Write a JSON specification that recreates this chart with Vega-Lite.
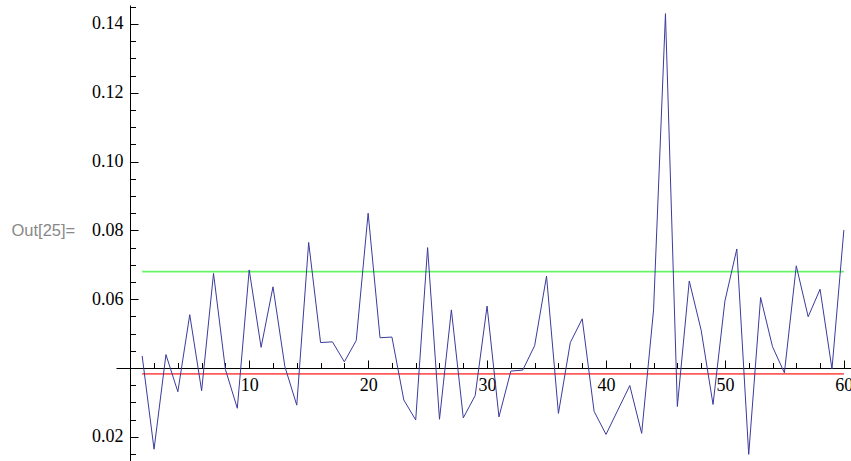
{
  "$schema": "https://vega.github.io/schema/vega-lite/v6.json",
  "width": 735,
  "height": 456,
  "autosize": "none",
  "padding": {"left": 116, "top": 5, "right": 0, "bottom": 0},
  "background": "white",
  "config": {"view": {"stroke": null}},
  "datasets": {
    "series": [
      {"i": 1, "v": 0.0435}, {"i": 2, "v": 0.0164}, {"i": 3, "v": 0.0439}, {"i": 4, "v": 0.0331},
      {"i": 5, "v": 0.0555}, {"i": 6, "v": 0.0334}, {"i": 7, "v": 0.0675}, {"i": 8, "v": 0.0396},
      {"i": 9, "v": 0.0283}, {"i": 10, "v": 0.0685}, {"i": 11, "v": 0.0460}, {"i": 12, "v": 0.0636},
      {"i": 13, "v": 0.0404}, {"i": 14, "v": 0.0292}, {"i": 15, "v": 0.0765}, {"i": 16, "v": 0.0474},
      {"i": 17, "v": 0.0476}, {"i": 18, "v": 0.0418}, {"i": 19, "v": 0.0480}, {"i": 20, "v": 0.0850},
      {"i": 21, "v": 0.0488}, {"i": 22, "v": 0.0490}, {"i": 23, "v": 0.0307}, {"i": 24, "v": 0.0249},
      {"i": 25, "v": 0.0750}, {"i": 26, "v": 0.0251}, {"i": 27, "v": 0.0569}, {"i": 28, "v": 0.0255},
      {"i": 29, "v": 0.0320}, {"i": 30, "v": 0.0580}, {"i": 31, "v": 0.0258}, {"i": 32, "v": 0.0391},
      {"i": 33, "v": 0.0394}, {"i": 34, "v": 0.0465}, {"i": 35, "v": 0.0667}, {"i": 36, "v": 0.0268},
      {"i": 37, "v": 0.0474}, {"i": 38, "v": 0.0543}, {"i": 39, "v": 0.0274}, {"i": 40, "v": 0.0207},
      {"i": 41, "v": 0.0278}, {"i": 42, "v": 0.0349}, {"i": 43, "v": 0.0210}, {"i": 44, "v": 0.0569},
      {"i": 45, "v": 0.1430}, {"i": 46, "v": 0.0288}, {"i": 47, "v": 0.0653}, {"i": 48, "v": 0.0510},
      {"i": 49, "v": 0.0294}, {"i": 50, "v": 0.0595}, {"i": 51, "v": 0.0746}, {"i": 52, "v": 0.0149},
      {"i": 53, "v": 0.0605}, {"i": 54, "v": 0.0462}, {"i": 55, "v": 0.0386}, {"i": 56, "v": 0.0697},
      {"i": 57, "v": 0.0549}, {"i": 58, "v": 0.0629}, {"i": 59, "v": 0.0397}, {"i": 60, "v": 0.0801}
    ],
    "refs": [
      {"name": "upper", "x0": 1, "x1": 60, "v": 0.068},
      {"name": "lower", "x0": 1, "x1": 60, "v": 0.0383}
    ]
  },
  "resolve": {"axis": {"x": "independent", "y": "independent"}},
  "layer": [
    {
      "data": {"name": "refs"},
      "mark": {"type": "rule", "strokeWidth": 1.8},
      "encoding": {
        "x": {
          "field": "x0", "type": "quantitative",
          "scale": {"domain": [-1.2, 60.6], "nice": false, "zero": false},
          "axis": {
            "orient": "bottom", "offset": -93, "values": [2,4,6,8,12,14,16,18,22,24,26,28,32,34,36,38,42,44,46,48,52,54,56,58],
            "labels": false, "domain": false, "grid": false, "tickSize": -5.5, "tickColor": "#000000", "tickWidth": 1, "title": null
          }
        },
        "x2": {"field": "x1"},
        "y": {
          "field": "v", "type": "quantitative",
          "scale": {"domain": [0.01297, 0.14552], "nice": false, "zero": false},
          "axis": {
            "orient": "left", "offset": -14, "values": [0.015,0.025,0.03,0.035,0.045,0.05,0.055,0.065,0.07,0.075,0.085,0.09,0.095,0.105,0.11,0.115,0.125,0.13,0.135,0.145],
            "labels": false, "domain": false, "grid": false, "tickSize": -5.5, "tickColor": "#000000", "tickWidth": 1, "title": null
          }
        },
        "color": {
          "field": "name", "type": "nominal",
          "scale": {"domain": ["upper", "lower"], "range": ["#66f466", "#ff5a5a"]},
          "legend": null
        }
      }
    },
    {
      "data": {"name": "series"},
      "mark": {"type": "line", "stroke": "#3b3b9c", "strokeWidth": 1},
      "encoding": {
        "x": {
          "field": "i", "type": "quantitative",
          "scale": {"domain": [-1.2, 60.6], "nice": false, "zero": false},
          "axis": {
            "orient": "bottom", "offset": -93, "values": [10, 20, 30, 40, 50, 60],
            "grid": false, "domainColor": "#000000", "domainWidth": 1,
            "tickSize": -8, "tickColor": "#000000", "tickWidth": 1,
            "labelFont": "Liberation Serif", "labelFontSize": 18, "labelColor": "#000000",
            "labelPadding": 30, "labelBaseline": "alphabetic", "labelFlush": false, "labelOverlap": false,
            "title": null
          }
        },
        "y": {
          "field": "v", "type": "quantitative",
          "scale": {"domain": [0.01297, 0.14552], "nice": false, "zero": false},
          "axis": {
            "orient": "left", "offset": -14, "values": [0.02, 0.06, 0.08, 0.10, 0.12, 0.14], "format": ".2f",
            "grid": false, "domainColor": "#000000", "domainWidth": 1,
            "tickSize": -8, "tickColor": "#000000", "tickWidth": 1,
            "labelFont": "Liberation Serif", "labelFontSize": 18, "labelColor": "#000000",
            "labelPadding": 15, "labelFlush": false, "labelOverlap": false,
            "title": "Out[25]=", "titleAngle": 0, "titleAlign": "left", "titleBaseline": "middle",
            "titleX": -119, "titleY": 225, "titleFont": "Liberation Sans", "titleFontSize": 16.5,
            "titleFontWeight": "normal", "titleColor": "#888888"
          }
        }
      }
    }
  ]
}
